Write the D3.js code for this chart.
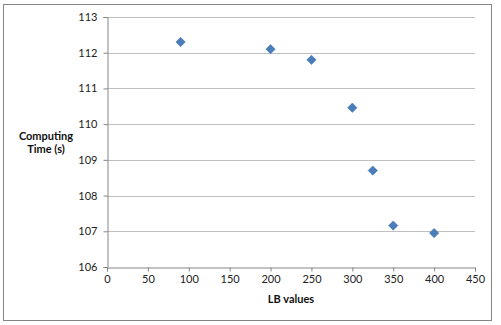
<!DOCTYPE html>
<html><head><meta charset="utf-8">
<script src="https://cdn.jsdelivr.net/npm/d3@7"></script>
<style>body{margin:0;background:#fff;}svg{display:block;font-family:Lato,"Open Sans",sans-serif;}</style>
</head><body>
<script>
const lbValues = [90, 200, 250, 300, 325, 350, 400];
const computingTimes = [112.3, 112.1, 111.8, 110.46, 108.7, 107.16, 106.95];
const xTicks = [0, 50, 100, 150, 200, 250, 300, 350, 400, 450];
const yTicks = [106, 107, 108, 109, 110, 111, 112, 113];

const W = 501, H = 325;
const svg = d3.select("body").append("svg").attr("width", W).attr("height", H);
svg.append("rect").attr("x", 3.5).attr("y", 4.5).attr("width", 488).attr("height", 316)
  .attr("fill", "#fff").attr("stroke", "#868686").attr("stroke-width", 1);

const x = d3.scaleLinear().domain([0, 450]).range([107, 475]);
const y = d3.scaleLinear().domain([106, 113]).range([267, 17]);

// gridlines
svg.append("g").selectAll("line").data(yTicks.slice(1)).join("line")
  .attr("x1", x(0)).attr("x2", x(450))
  .attr("y1", d => Math.round(y(d)) + 0.5).attr("y2", d => Math.round(y(d)) + 0.5)
  .attr("stroke", "#bfbfbf").attr("stroke-width", 1);

const xAxis = svg.append("g").attr("transform", `translate(0,${Math.round(y(106)) + 0.5})`)
  .call(d3.axisBottom(x).tickValues(xTicks).tickFormat(d3.format("d")).tickSize(4).tickPadding(4));
const yAxis = svg.append("g").attr("transform", `translate(${Math.round(x(0)) + 0.5},0)`)
  .call(d3.axisLeft(y).tickValues(yTicks).tickFormat(d3.format("d")).tickSize(4).tickPadding(6));
[xAxis, yAxis].forEach(a => {
  a.select(".domain").attr("stroke", "#868686");
  a.selectAll(".tick line").attr("stroke", "#868686");
  a.selectAll("text").attr("fill", "#222").style("font-size", "11px").style("font-family", "Lato, 'Open Sans', sans-serif");
});

svg.append("text").attr("x", x(225) - 0).attr("y", 303).attr("text-anchor", "middle")
  .style("font-size", "11px").style("font-weight", "bold").attr("fill", "#111").text("LB values");
const yt = svg.append("text").attr("x", 46).attr("text-anchor", "middle")
  .style("font-size", "11px").style("font-weight", "bold").attr("fill", "#111");
yt.append("tspan").attr("x", 46).attr("y", 140).text("Computing");
yt.append("tspan").attr("x", 46).attr("y", 153).text("Time (s)");

const data = lbValues.map((v, i) => ({x: v, y: computingTimes[i]}));
svg.append("g").selectAll("path").data(data).join("path")
  .attr("transform", d => `translate(${x(d.x)},${y(d.y)})`)
  .attr("d", d3.symbol().type(d3.symbolDiamond2).size(56))
  .attr("fill", "#4a7ebb").attr("stroke", "#3d6ea8").attr("stroke-width", 0.5);
</script>
</body></html>
